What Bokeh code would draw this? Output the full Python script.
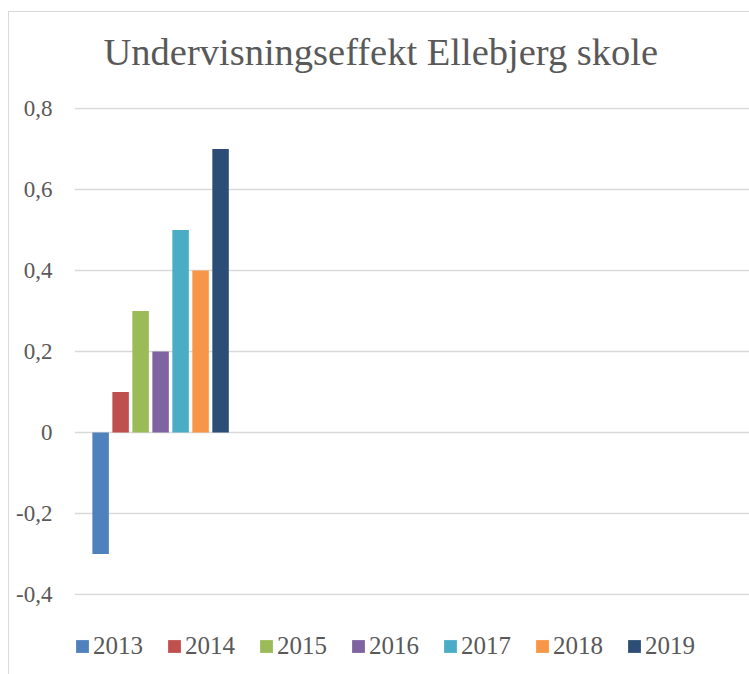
from bokeh.plotting import figure
from bokeh.models import ColumnDataSource, Range1d, FixedTicker, InlineStyleSheet, Title
from bokeh.embed import file_html
from bokeh.resources import INLINE

# ---- data ----
TITLE = "Undervisningseffekt Ellebjerg skole"
YEARS = ["2013", "2014", "2015", "2016", "2017", "2018", "2019"]
VALUES = [-0.3, 0.1, 0.3, 0.2, 0.5, 0.4, 0.7]
COLORS = ["#4f81bd", "#c0504d", "#9bbb59", "#8064a2", "#4bacc6", "#f79646", "#2c4d75"]
Y_TICKS = [-0.4, -0.2, 0, 0.2, 0.4, 0.6, 0.8]
Y_TICK_LABELS = ["-0,4", "-0,2", "0", "0,2", "0,4", "0,6", "0,8"]

# ---- layout constants ----
FONT = "Liberation Serif"
TEXT_COLOR = "#595959"
GRID_COLOR = "#d9d9d9"
X_END = 3.92          # visible category span
GROUP_CENTER = 0.5    # centre of the (single) category
STEP = 0.1161         # dodge between series
BAR_W = 0.0958
EPS = 0.0025          # keeps edge gridlines inside the frame

n = len(YEARS)
xs = [GROUP_CENTER + (i - (n - 1) / 2) * STEP for i in range(n)]
src = ColumnDataSource(dict(x=xs, top=VALUES, year=YEARS, color=COLORS))

p = figure(frame_width=675, frame_height=488,
           x_range=Range1d(0, X_END),
           y_range=Range1d(Y_TICKS[0] - EPS, Y_TICKS[-1] + EPS),
           output_backend="svg", toolbar_location=None, x_axis_location=None,
           min_border_left=65, min_border_top=95, min_border_bottom=79, min_border_right=0)
p.margin = (11, 0, 0, 8)
p.stylesheets = [InlineStyleSheet(css=":host { border-left: 1px solid #d9d9d9; border-top: 1px solid #d9d9d9; }")]
p.outline_line_color = None
p.background_fill_color = "white"
p.border_fill_color = "white"

# spacer between frame and title (pushes the title upwards)
p.add_layout(Title(text=" ", text_font_size="1px", standoff=30), "above")

p.title.text = TITLE
p.title.text_font = FONT
p.title.text_font_size = "38.5px"
p.title.text_font_style = "normal"
p.title.text_color = TEXT_COLOR
p.title.align = "left"
p.title.offset = 29
p.title.vertical_align = "top"
p.title.standoff = 0

p.vbar(x="x", top="top", bottom=0, width=BAR_W, fill_color="color",
       line_color=None, legend_field="year", source=src)

p.xgrid.visible = False
p.ygrid.ticker = FixedTicker(ticks=Y_TICKS)
p.ygrid.grid_line_color = GRID_COLOR
p.ygrid.grid_line_width = 1.5

yax = p.yaxis[0]
yax.ticker = FixedTicker(ticks=Y_TICKS)
yax.major_label_overrides = {t: l for t, l in zip(Y_TICKS, Y_TICK_LABELS)}
yax.axis_line_color = None
yax.major_tick_line_color = None
yax.minor_tick_line_color = None
yax.major_tick_out = 0
yax.major_tick_in = 0
yax.major_label_standoff = 22
yax.major_label_text_font = FONT
yax.major_label_text_font_size = "23px"
yax.major_label_text_color = TEXT_COLOR

lg = p.legend[0]
p.center.remove(lg)
lg.orientation = "horizontal"
lg.location = "top_left"
lg.margin = 0
lg.padding = 0
lg.spacing = 23
lg.glyph_width = 16
lg.glyph_height = 16
lg.label_standoff = 3
lg.label_text_font = FONT
lg.label_text_font_size = "25px"
lg.label_text_color = TEXT_COLOR
lg.background_fill_alpha = 0
lg.border_line_alpha = 0
# an empty legend title acts as a vertical spacer above the items
lg.title = " "
lg.title_text_font_size = "10px"
lg.title_standoff = 26
p.add_layout(lg, "below")

open("out.html", "w").write(file_html(p, INLINE))
